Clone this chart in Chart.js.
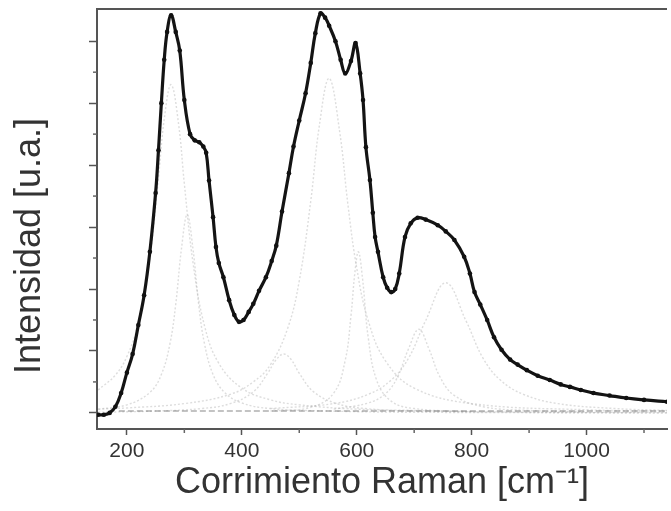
<!DOCTYPE html>
<html>
<head>
<meta charset="utf-8">
<script src="https://cdn.jsdelivr.net/npm/chart.js@4/dist/chart.umd.min.js"></script>
<style>
  html, body { margin: 0; padding: 0; background: #ffffff; }
  #wrap { position: relative; width: 671px; height: 511px; }
</style>
</head>
<body>
<div id="wrap"><canvas id="c" width="671" height="511"></canvas></div>
<script>
// ---- Data ----
const xTitle = 'Corrimiento Raman [cm\u207B\u00B9]';
const yTitle = 'Intensidad [u.a.]';
const xTickValues = [200, 400, 600, 800, 1000];

// Measured spectrum (Raman shift, intensity)
const ramanShift = [150,160,170,180,190,200,210,220,230,240,250,255,260,265,270,277,285,292,300,310,318,326,333,338,343,350,355,360,368,378,387,395,403,412,420,430,442,452,460,470,482,490,500,511,520,528,537,545,552,563,572,580,590,598,606,611,616,623,628,632,637,646,653,660,667,674,684,694,706,720,741,755,770,787,797,805,815,827,839,852,867,880,896,915,936,955,971,990,1012,1040,1069,1100,1140];
const intensity = [-0.03,-0.03,0.0,0.1,0.32,0.65,0.95,1.42,1.9,2.6,3.55,4.24,5.0,5.7,6.15,6.42,6.15,5.85,5.05,4.5,4.4,4.37,4.3,4.2,3.75,3.16,2.68,2.42,2.19,1.82,1.58,1.47,1.5,1.63,1.76,1.97,2.19,2.45,2.7,3.25,3.87,4.3,4.72,5.16,5.65,6.13,6.45,6.38,6.25,6.0,5.7,5.48,5.68,5.97,5.48,5.05,4.29,3.76,3.23,2.84,2.6,2.19,2.02,1.95,2.0,2.25,2.84,3.06,3.15,3.12,3.03,2.93,2.79,2.52,2.25,1.95,1.75,1.5,1.22,1.02,0.86,0.78,0.69,0.6,0.53,0.46,0.42,0.37,0.32,0.28,0.24,0.21,0.18];

// Fitted component bands (faint curves), [shift, intensity]
const band277 = [[150,0.37],[180,0.61],[200,0.91],[220,1.45],[240,2.5],[255,3.8],[265,4.74],[277,5.3],[290,4.66],[300,3.7],[315,2.43],[335,1.41],[360,0.8],[400,0.4],[450,0.21],[500,0.13],[600,0.06],[700,0.04],[800,0.02],[1000,0.01],[1140,0.01]];
const band305 = [[150,0.06],[200,0.13],[240,0.33],[260,0.62],[275,1.12],[285,1.75],[295,2.65],[305,3.2],[315,2.65],[325,1.75],[335,1.12],[350,0.62],[370,0.33],[400,0.16],[450,0.07],[550,0.03],[700,0.01],[1140,0.0]];
const band473 = [[150,0.01],[250,0.03],[330,0.07],[380,0.15],[420,0.34],[445,0.64],[460,0.86],[473,0.95],[486,0.86],[500,0.64],[525,0.34],[565,0.15],[615,0.07],[700,0.03],[900,0.01],[1140,0.0]];
const band552 = [[150,0.06],[200,0.08],[300,0.15],[380,0.3],[420,0.5],[450,0.78],[480,1.37],[500,2.13],[520,3.42],[535,4.64],[552,5.4],[570,4.56],[585,3.34],[600,2.34],[620,1.49],[650,0.84],[700,0.4],[800,0.15],[1000,0.05],[1140,0.03]];
const band603 = [[450,0.03],[520,0.09],[560,0.32],[580,0.85],[590,1.57],[597,2.28],[603,2.6],[610,2.18],[620,1.22],[635,0.52],[660,0.19],[700,0.07],[800,0.02]];
const band708 = [[560,0.06],[620,0.16],[650,0.31],[670,0.56],[690,1.03],[708,1.35],[725,1.05],[745,0.58],[770,0.28],[820,0.1],[900,0.04],[1000,0.02]];
const band755 = [[450,0.07],[560,0.15],[620,0.3],[660,0.53],[690,0.88],[720,1.49],[755,2.1],[790,1.49],[820,0.88],[850,0.53],[890,0.3],[950,0.15],[1050,0.07],[1140,0.04]];
const baseline = [[186,0.03],[1140,0.03]];

// ---- Chart ----
const toPts = (xs, ys) => xs.map((x, i) => ({x: x, y: ys[i]}));
const pairPts = arr => arr.map(p => ({x: p[0], y: p[1]}));

const bandStyle = {
  borderColor: 'rgba(150,150,150,0.32)',
  borderWidth: 1.4,
  borderDash: [2, 2],
  pointRadius: 0,
  tension: 0.4,
  fill: false,
  order: 2
};

const bands = [band277, band305, band473, band552, band603, band708, band755].map(b =>
  Object.assign({ data: pairPts(b) }, bandStyle));

const decorations = {
  id: 'decorations',
  afterDraw(chart) {
    const ctx = chart.ctx;
    const a = chart.chartArea;
    const xs = chart.scales.x, ys = chart.scales.y;
    ctx.save();
    // top frame line
    ctx.strokeStyle = '#555';
    ctx.lineWidth = 2;
    ctx.beginPath();
    ctx.moveTo(a.left, a.top);
    ctx.lineTo(a.right, a.top);
    ctx.stroke();
    // minor ticks
    ctx.lineWidth = 1.5;
    ctx.strokeStyle = '#666';
    for (let v = 300; v <= 1100; v += 200) {
      const px = xs.getPixelForValue(v);
      ctx.beginPath();
      ctx.moveTo(px, a.bottom);
      ctx.lineTo(px, a.bottom + 4);
      ctx.stroke();
    }
    for (let v = 0.5; v <= 6; v += 1) {
      const py = ys.getPixelForValue(v);
      ctx.beginPath();
      ctx.moveTo(a.left - 4, py);
      ctx.lineTo(a.left, py);
      ctx.stroke();
    }
    // y-axis title
    ctx.fillStyle = '#333';
    ctx.font = '36px "Liberation Sans", Arial, sans-serif';
    ctx.textAlign = 'center';
    ctx.textBaseline = 'middle';
    ctx.translate(30, 246);
    ctx.rotate(-Math.PI / 2);
    ctx.fillText(yTitle, 0, 0);
    ctx.restore();
  }
};

new Chart(document.getElementById('c'), {
  type: 'line',
  data: {
    datasets: [
      {
        label: 'Espectro',
        data: toPts(ramanShift, intensity),
        borderColor: '#141414',
        borderWidth: 3.2,
        pointRadius: 2.3,
        pointBackgroundColor: '#111',
        pointBorderWidth: 0,
        tension: 0.4,
        fill: false,
        order: 0
      },
      Object.assign({ label: 'Línea base', data: pairPts(baseline) }, bandStyle,
        { borderColor: 'rgba(110,110,110,0.55)', borderDash: [6, 3], tension: 0, order: 1 }),
      ...bands.map((b, i) => Object.assign(b, { label: 'Banda ' + (i + 1) }))
    ]
  },
  options: {
    responsive: false,
    animation: false,
    events: [],
    layout: { padding: { left: 89, right: 0, top: 9, bottom: 9.8 } },
    plugins: { legend: { display: false }, tooltip: { enabled: false } },
    scales: {
      x: {
        type: 'linear',
        min: 148,
        max: 1140,
        afterBuildTicks: s => { s.ticks = xTickValues.map(v => ({ value: v })); },
        ticks: {
          includeBounds: false,
          padding: 4,
          color: '#333',
          callback: v => String(v),
          font: { family: '"Liberation Sans", Arial, sans-serif', size: 21 }
        },
        grid: { drawOnChartArea: false, drawTicks: true, tickLength: 6, tickWidth: 1.5, tickColor: '#555' },
        border: { display: true, color: '#555', width: 2 },
        title: {
          display: true,
          text: xTitle,
          color: '#333',
          padding: { top: -3, bottom: 0 },
          font: { family: '"Liberation Sans", Arial, sans-serif', size: 36, lineHeight: 1 }
        }
      },
      y: {
        type: 'linear',
        min: -0.26,
        max: 6.52,
        ticks: { display: false, stepSize: 1, includeBounds: false },
        afterBuildTicks: s => { s.ticks = [0,1,2,3,4,5,6].map(v => ({ value: v })); },
        grid: { drawOnChartArea: false, drawTicks: true, tickLength: 8, tickWidth: 1.5, tickColor: '#555' },
        border: { display: true, color: '#555', width: 2 }
      }
    }
  },
  plugins: [decorations]
});
</script>
</body>
</html>
